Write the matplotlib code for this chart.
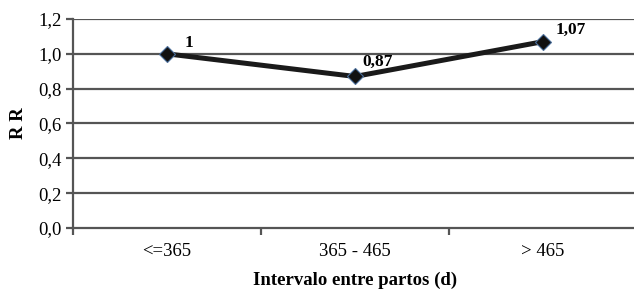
import matplotlib
matplotlib.use("Agg")
import matplotlib.pyplot as plt

categories = ["<=365", "365 - 465", "> 465"]
rr_values = [1.0, 0.87, 1.07]
point_labels = ["1", "0,87", "1,07"]
label_offsets = [(13, 2), (5, 5), (9, 3)]
y_ticks = [0.0, 0.2, 0.4, 0.6, 0.8, 1.0, 1.2]

plt.rcParams["font.family"] = ["Liberation Serif", "DejaVu Serif"]

fig = plt.figure(figsize=(6.34, 2.90), dpi=100)
ax = fig.add_axes([73 / 634, 62 / 290, 1 - 73 / 634, (271 - 62) / 290])

grid_color = "#555555"
x = list(range(len(categories)))

for y in y_ticks[1:]:
    ax.axhline(y, color=grid_color, lw=1.6, zorder=1)

ax.plot(x, rr_values, color="#1a1a1a", lw=3.6, zorder=3,
        marker="D", markersize=8, markerfacecolor="#111111",
        markeredgecolor="#4a6e9a", markeredgewidth=0.8)

for xi, yi, txt, off in zip(x, rr_values, point_labels, label_offsets):
    ax.annotate(txt, (xi, yi), xytext=off, textcoords="offset points",
                fontsize=12.5, fontweight="bold", ha="left", va="bottom")

ax.set_xlim(-0.5, -0.5 + (634 - 73) / 188)
ax.set_ylim(0, 1.2)

ax.set_yticks(y_ticks)
ax.set_yticklabels([f"{v:.1f}".replace(".", ",") for v in y_ticks], fontsize=13.5)

ax.set_xticks([-0.5, 0.5, 1.5])
ax.set_xticklabels([])
ax.set_xticks(x, minor=True)
ax.set_xticklabels(categories, minor=True, fontsize=13.5)
ax.tick_params(axis="x", which="minor", length=0, pad=11)
ax.tick_params(axis="x", which="major", length=5, width=1.6, color=grid_color)
ax.tick_params(axis="y", length=5, width=1.6, color=grid_color, pad=3)

for side in ["top", "right"]:
    ax.spines[side].set_visible(False)
for side in ["left", "bottom"]:
    ax.spines[side].set_color(grid_color)
    ax.spines[side].set_linewidth(1.6)

# x title placed by hand, it sits very close to the bottom edge
fig.text((73 + 188 * 1.5) / 634, 5 / 290, "Intervalo entre partos (d)",
         fontsize=13.5, fontweight="bold", ha="center", va="baseline")
ax.set_ylabel("R R", fontsize=13.5, fontweight="bold", labelpad=8)

fig.savefig("out.png", dpi=100)
